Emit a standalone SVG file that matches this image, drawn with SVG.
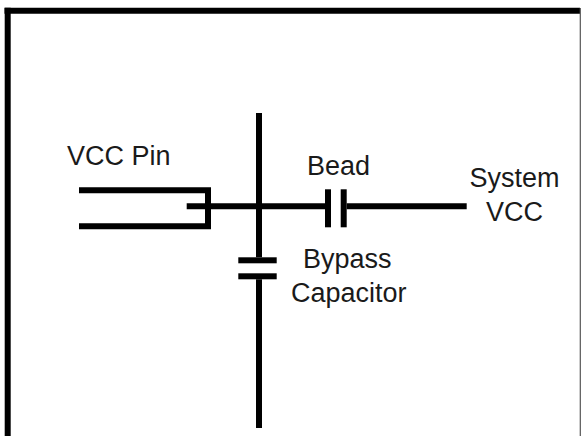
<svg xmlns="http://www.w3.org/2000/svg" width="582" height="436" viewBox="0 0 582 436">
  <style>
    .w { stroke: #000; stroke-width: 6; fill: none; stroke-linecap: butt; stroke-linejoin: miter; }
    .t { font-family: "Liberation Sans", Arial, sans-serif; font-size: 27px; fill: #1a1a1a; }
    .plate { fill: #000; }
  </style>
  <rect x="0" y="0" width="582" height="436" fill="#fff"/>
  <g id="frame">
    <line class="w" x1="4.5" y1="10.7" x2="580" y2="10.7"/>
    <line class="w" x1="7.7" y1="7.7" x2="7.7" y2="436"/>
    <line x1="580.3" y1="8" x2="580.3" y2="436" stroke="#555" stroke-width="1.2"/>
  </g>
  <g id="vcc-pin">
    <polyline class="w" points="79,190.3 208,190.3 208,226.3 79,226.3"/>
    <text class="t" x="67" y="165">VCC Pin</text>
  </g>
  <g id="bead">
    <rect class="plate" x="325" y="189.3" width="6" height="38"/>
    <rect class="plate" x="340.7" y="189.3" width="6" height="38"/>
    <text class="t" x="307" y="175">Bead</text>
  </g>
  <g id="bypass-capacitor">
    <rect class="plate" x="238.3" y="257.3" width="38.4" height="6"/>
    <rect class="plate" x="238.3" y="273.3" width="38.4" height="6"/>
    <text class="t" x="303" y="268">Bypass</text>
    <text class="t" x="291" y="302">Capacitor</text>
  </g>
  <g id="system-vcc">
    <text class="t" x="514.5" y="187" text-anchor="middle">System</text>
    <text class="t" x="514.5" y="220.5" text-anchor="middle">VCC</text>
  </g>
  <g id="connectors">
    <line class="w" x1="186.7" y1="206.3" x2="325" y2="206.3"/>
    <line class="w" x1="346.7" y1="206.3" x2="466.7" y2="206.3"/>
    <line class="w" x1="259" y1="113" x2="259" y2="257.3"/>
    <line class="w" x1="259" y1="279.3" x2="259" y2="428"/>
  </g>
</svg>
